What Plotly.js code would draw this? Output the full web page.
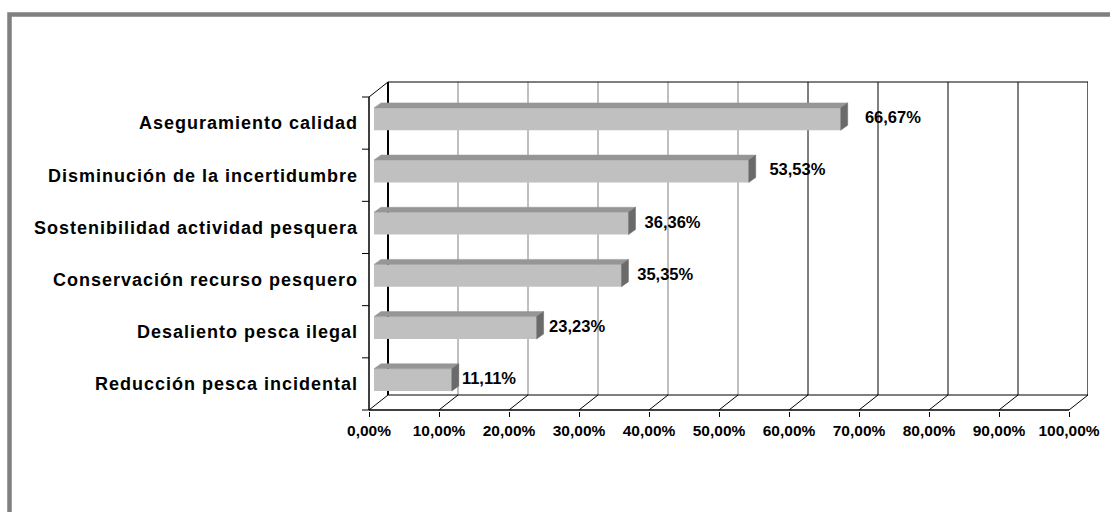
<!DOCTYPE html>
<html><head><meta charset="utf-8">
<script src="https://cdn.plot.ly/plotly-3.0.1.min.js"></script>
<style>
html,body{margin:0;padding:0;background:#fff;}
#chart{width:1110px;height:512px;}
.ytick text{letter-spacing:1px;}
</style></head><body><div id="chart"></div>
<script>
// ---- data ----
const categories = ["Aseguramiento calidad","Disminución de la incertidumbre","Sostenibilidad actividad pesquera","Conservación recurso pesquero","Desaliento pesca ilegal","Reducción pesca incidental"];
const values = [66.67, 53.53, 36.36, 35.35, 23.23, 11.11];
const xTickValues = [0,10,20,30,40,50,60,70,80,90,100];
const xTickLabels = ["0,00%","10,00%","20,00%","30,00%","40,00%","50,00%","60,00%","70,00%","80,00%","90,00%","100,00%"];

// ---- geometry (pixel sizes converted to axis units) ----
const n = categories.length;
const PXX = 7;            // px per percent
const PXY = 313 / n;      // px per category band
const wallDX = 19 / PXX, wallDY = 15 / PXY;   // depth of the 3D box
const faceDX = 5 / PXX, faceDY = 4 / PXY;     // bar front face depth
const barDX = 7 / PXX, barDY = 5 / PXY;       // bar depth
const barHalf = 11.2 / PXY;
const xMax = xTickValues[xTickValues.length - 1];
const xRange = [-10 / PXX, xMax + wallDX];
const yRange = [-0.5 - 1 / PXY, n - 0.5 + 16 / PXY];
const L = 359, T = 81;
const plotW = (xRange[1] - xRange[0]) * PXX;
const plotH = (yRange[1] - yRange[0]) * PXY;

const FONT = "Liberation Sans, Arial, sans-serif";
const traces = [];
const rowY = i => n - 1 - i;

// front faces
traces.push({
  type: 'bar', orientation: 'h',
  x: values, y: values.map((v, i) => rowY(i) + faceDY),
  base: values.map(() => faceDX),
  width: 2 * barHalf,
  marker: {color: '#C0C0C0', line: {width: 0}},
  hoverinfo: 'skip', showlegend: false
});
// top and side faces
values.forEach((v, i) => {
  const yc = rowY(i) + faceDY, yt = yc + barHalf, yb = yc - barHalf;
  const x0 = faceDX, x1 = faceDX + v;
  traces.push({
    type: 'scatter', mode: 'lines', fill: 'toself', fillcolor: '#969696',
    line: {width: 0.5, color: '#969696'},
    x: [x0, x1, x1 + barDX, x0 + barDX, x0],
    y: [yt, yt, yt + barDY, yt + barDY, yt],
    hoverinfo: 'skip', showlegend: false
  });
  traces.push({
    type: 'scatter', mode: 'lines', fill: 'toself', fillcolor: '#6A6A6A',
    line: {width: 0.5, color: '#6A6A6A'},
    x: [x1, x1 + barDX, x1 + barDX, x1, x1],
    y: [yb, yb + barDY, yt + barDY, yt, yb],
    hoverinfo: 'skip', showlegend: false
  });
});
// data labels
traces.push({
  type: 'scatter', mode: 'text',
  x: values.map(v => 5.6 + 1.0386 * v),
  y: values.map((v, i) => rowY(i) + faceDY),
  text: values.map(v => v.toFixed(2).replace('.', ',') + '%'),
  textposition: 'middle center',
  textfont: {family: FONT, size: 16.5, weight: 'bold', color: '#000'},
  cliponaxis: false, hoverinfo: 'skip', showlegend: false
});

// box shapes
const shapes = [];
const ln = (x0, y0, x1, y1, color, width) => shapes.push({
  type: 'line', xref: 'x', yref: 'y', x0, y0, x1, y1, layer: 'below',
  line: {color: color || '#000', width: width || 1}
});
const yBot = -0.5, yTop = n - 0.5;
xTickValues.forEach(t => {
  if (t > 0 && t < xMax) ln(t + wallDX, yBot + wallDY, t + wallDX, yTop + wallDY, t <= 50 ? '#808080' : '#000', 1);
  ln(t, yBot, t + wallDX, yBot + wallDY, '#000', 1);
});
ln(wallDX, yTop + wallDY, xMax + wallDX, yTop + wallDY, '#000', 1.2);
ln(xMax + wallDX, yBot + wallDY, xMax + wallDX, yTop + wallDY, '#000', 1.2);
ln(wallDX, yBot + wallDY, wallDX, yTop + wallDY, '#000', 2);
ln(wallDX, yBot + wallDY, xMax + wallDX, yBot + wallDY, '#000', 1.2);
ln(0, yBot, xMax, yBot, '#000', 1.5);
ln(0, yBot, 0, yTop, '#000', 1.5);
ln(0, yTop, wallDX, yTop + wallDY, '#000', 1);
for (let k = 0; k <= n; k++) ln(-7 / PXX, yBot + k, 0, yBot + k, '#000', 1);

// outer frame (pixel -> paper)
const px2paperX = px => (px - L) / plotW;
const px2paperY = py => 1 - (py - T) / plotH;
shapes.push({
  type: 'rect', xref: 'paper', yref: 'paper',
  x0: px2paperX(9.5), x1: px2paperX(1130), y0: px2paperY(14.5), y1: px2paperY(540),
  line: {color: '#808080', width: 4.5}, fillcolor: 'rgba(0,0,0,0)', layer: 'above'
});

const layout = {
  width: 1110, height: 512,
  margin: {l: L, t: T, r: 1110 - L - plotW, b: 512 - T - plotH, pad: 0},
  paper_bgcolor: '#fff', plot_bgcolor: '#fff',
  showlegend: false, hovermode: false,
  xaxis: {
    range: xRange, showgrid: false, zeroline: false, showline: false,
    tickmode: 'array', tickvals: xTickValues, ticktext: xTickLabels,
    ticks: 'outside', ticklen: 5, tickwidth: 1, tickcolor: '#000',
    tickfont: {family: FONT, size: 15.5, weight: 'bold', color: '#000'},
    fixedrange: true
  },
  yaxis: {
    range: yRange, showgrid: false, zeroline: false, showline: false,
    tickmode: 'array', tickvals: categories.map((c, i) => rowY(i)), ticktext: categories,
    ticks: '', ticklabelstandoff: 0,
    tickfont: {family: FONT, size: 18, weight: 'bold', color: '#000'},
    fixedrange: true
  },
  shapes: shapes
};
Plotly.newPlot('chart', traces, layout, {staticPlot: true, displayModeBar: false});
</script></body></html>
